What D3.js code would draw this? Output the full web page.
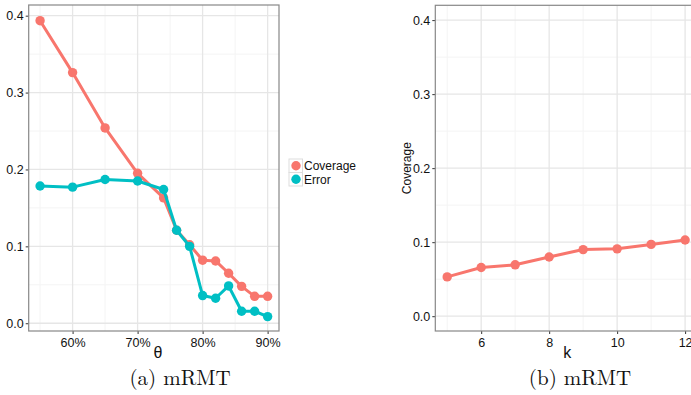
<!DOCTYPE html>
<html>
<head>
<meta charset="utf-8">
<script src="https://cdn.jsdelivr.net/npm/d3@7"></script>
<style>
  body { margin: 0; background: #fff; }
  text { font-family: "Liberation Sans", Arial, sans-serif; }
</style>
</head>
<body>
<div id="chartHolder"></div>
<script>
// panel (a): coverage and error vs theta (%)
const theta = [55, 60, 65, 70, 74, 76, 78, 80, 82, 84, 86, 88, 90];
const coverageA = [0.3935, 0.326, 0.254, 0.195, 0.163, 0.121, 0.102, 0.082, 0.081, 0.065, 0.048, 0.035, 0.035];
const errorA = [0.1785, 0.177, 0.187, 0.185, 0.174, 0.121, 0.100, 0.036, 0.0325, 0.0485, 0.0156, 0.0156, 0.0086];
const thetaTicks = [60, 70, 80, 90];
const yTicks = [0, 0.1, 0.2, 0.3, 0.4];
// panel (b): coverage vs k
const kVals = [5, 6, 7, 8, 9, 10, 11, 12];
const coverageB = [0.0531, 0.0658, 0.0694, 0.080, 0.090, 0.091, 0.097, 0.103];
const kTicks = [6, 8, 10, 12];

const seriesNames = ["Coverage", "Error"];
const colors = ["#F8766D", "#00BFC4"];

const width = 691, height = 395;
const svg = d3.select("#chartHolder").append("svg")
  .attr("width", width).attr("height", height);

function panel(opts) {
  const g = svg.append("g");
  const x = d3.scaleLinear().domain(opts.xDomain).range([opts.left, opts.right]);
  const y = d3.scaleLinear().domain(opts.yDomain).range([opts.bottom, opts.top]);

  // minor grid
  g.selectAll(".mx").data(opts.xMinor).enter().append("line")
    .attr("x1", d => x(d)).attr("x2", d => x(d))
    .attr("y1", opts.top).attr("y2", opts.bottom)
    .attr("stroke", "#f4f4f4").attr("stroke-width", 1);
  g.selectAll(".my").data(opts.yMinor).enter().append("line")
    .attr("y1", d => y(d)).attr("y2", d => y(d))
    .attr("x1", opts.left).attr("x2", opts.right)
    .attr("stroke", "#f4f4f4").attr("stroke-width", 1);
  // major grid
  g.selectAll(".gx").data(opts.xTicks).enter().append("line")
    .attr("x1", d => x(d)).attr("x2", d => x(d))
    .attr("y1", opts.top).attr("y2", opts.bottom)
    .attr("stroke", "#e6e6e6").attr("stroke-width", 1.3);
  g.selectAll(".gy").data(yTicks).enter().append("line")
    .attr("y1", d => y(d)).attr("y2", d => y(d))
    .attr("x1", opts.left).attr("x2", opts.right)
    .attr("stroke", "#e6e6e6").attr("stroke-width", 1.3);

  // axes
  const xAxis = d3.axisBottom(x).tickValues(opts.xTicks).tickFormat(opts.xFormat)
    .tickSize(3).tickPadding(4);
  const gx = g.append("g").attr("transform", `translate(0,${opts.bottom})`).call(xAxis);
  const yAxis = d3.axisLeft(y).tickValues(yTicks).tickFormat(d3.format(".1f"))
    .tickSize(3).tickPadding(2);
  const gy = g.append("g").attr("transform", `translate(${opts.left},0)`).call(yAxis);
  [gx, gy].forEach(a => {
    a.select(".domain").remove();
    a.selectAll("line").attr("stroke", "#333");
    a.selectAll("text").attr("fill", "#111").style("font-size", "12.5px");
  });

  // border
  g.append("rect")
    .attr("x", opts.left).attr("y", opts.top)
    .attr("width", opts.right - opts.left).attr("height", opts.bottom - opts.top)
    .attr("fill", "none").attr("stroke", "#888").attr("stroke-width", 1.2);

  // series
  opts.series.forEach(s => {
    const pts = opts.xs.map((v, i) => [v, s.values[i]]);
    g.append("path").datum(pts)
      .attr("fill", "none").attr("stroke", s.color).attr("stroke-width", 3)
      .attr("stroke-linejoin", "round")
      .attr("d", d3.line().x(d => x(d[0])).y(d => y(d[1])));
    g.selectAll(null).data(pts).enter().append("circle")
      .attr("cx", d => x(d[0])).attr("cy", d => y(d[1])).attr("r", 4.7)
      .attr("fill", s.color);
  });

  // axis title
  g.append("text").attr("x", (opts.left + Math.min(opts.right, width)) / 2 + opts.xTitleShift)
    .attr("y", opts.bottom + 27).attr("text-anchor", "middle")
    .style("font-size", "16px").attr("fill", "#111").text(opts.xTitle);
  if (opts.yTitle) {
    g.append("text").attr("transform", `translate(${opts.left - 24},${(opts.top + opts.bottom) / 2}) rotate(-90)`)
      .attr("text-anchor", "middle").style("font-size", "12px").attr("fill", "#111")
      .text(opts.yTitle);
  }
  // caption
  g.append("text").attr("x", opts.capX).attr("y", 385).attr("text-anchor", "middle")
    .style("font-family", "'Latin Modern Roman','Liberation Serif',serif")
    .style("font-size", "21px").attr("fill", "#111")
    .text(opts.caption);
  return g;
}

panel({
  left: 28.7, right: 279, top: 5, bottom: 331,
  xDomain: [53.25, 91.75], yDomain: [-0.0101, 0.4139],
  xTicks: thetaTicks, xMinor: [55, 65, 75, 85], yMinor: [0.05, 0.15, 0.25, 0.35],
  xFormat: d => d + "%", xs: theta,
  series: [{ values: coverageA, color: colors[0] }, { values: errorA, color: colors[1] }],
  xTitle: "θ", xTitleShift: 4, caption: "(a) mRMT", capX: 180
});

panel({
  left: 435.3, right: 697, top: 5.3, bottom: 331,
  xDomain: [4.65, 12.35], yDomain: [-0.02, 0.42],
  xTicks: kTicks, xMinor: [5, 7, 9, 11], yMinor: [0.05, 0.15, 0.25, 0.35],
  xFormat: d3.format("d"), xs: kVals,
  series: [{ values: coverageB, color: colors[0] }],
  xTitle: "k", xTitleShift: 4, yTitle: "Coverage", caption: "(b) mRMT", capX: 580
});

// legend for panel (a)
const legend = svg.append("g");
seriesNames.forEach((name, i) => {
  const ky = 159 + i * 13.5;
  legend.append("rect").attr("x", 289).attr("y", ky).attr("width", 13.5).attr("height", 13.5)
    .attr("fill", "#fff").attr("stroke", "#ddd").attr("stroke-width", 1);
  legend.append("circle").attr("cx", 296).attr("cy", ky + 6.75).attr("r", 4.7).attr("fill", colors[i]);
  legend.append("text").attr("x", 304).attr("y", ky + 11).style("font-size", "12px")
    .attr("fill", "#111").text(name);
});
</script>
</body>
</html>
